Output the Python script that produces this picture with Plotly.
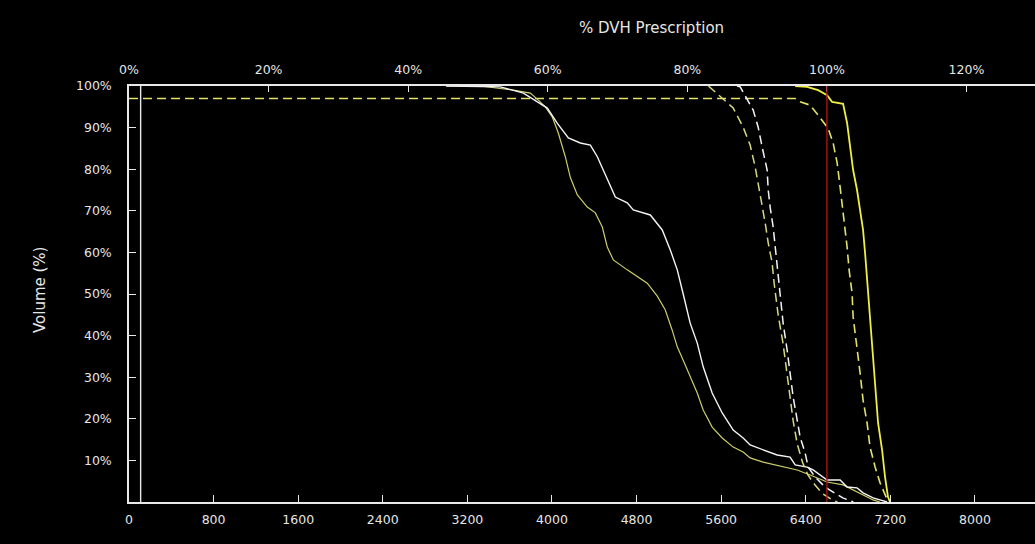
import plotly.graph_objects as go

# ---- data (dose in cGy, volume in %) ----
RX_DOSE = 6600          # 100 % prescription dose (red line)
REF_LINE_DOSE = 110     # thin white reference line near 0 %
X_MAX = 8568
PCT_TICKS = [0, 20, 40, 60, 80, 100, 120]
DOSE_TICKS = [0, 800, 1600, 2400, 3200, 4000, 4800, 5600, 6400, 7200, 8000]
VOL_TICKS = [10, 20, 30, 40, 50, 60, 70, 80, 90, 100]

white_solid_dose = [3000, 3512, 3730, 3862, 3956, 4051, 4155, 4268, 4363, 4429, 4523, 4599,
                    4712, 4769, 4930, 5043, 5119, 5185, 5241, 5307, 5374, 5430, 5515, 5610,
                    5714, 5808, 5874, 5997, 6130, 6252, 6300, 6413, 6470, 6602, 6725, 6791,
                    6885, 6942, 7037, 7169]
white_solid_vol = [100, 99.8, 98.3, 96.2, 94.7, 91.0, 87.5, 86.3, 85.8, 83.0, 77.4, 73.3,
                   71.9, 70.2, 69.0, 65.4, 60.6, 55.8, 50.0, 43.0, 38.2, 32.5, 26.2, 21.4,
                   17.3, 15.4, 13.7, 12.5, 11.3, 10.8, 8.9, 8.4, 7.7, 5.3, 5.3, 3.6,
                   3.4, 2.2, 1.0, 0.0]

yellow_thin_dose = [3000, 3323, 3635, 3796, 3871, 3937, 4004, 4060, 4126, 4174, 4240, 4334,
                    4410, 4476, 4523, 4580, 4712, 4807, 4901, 4996, 5071, 5137, 5185, 5241,
                    5307, 5374, 5430, 5515, 5610, 5714, 5808, 5874, 5997, 6186, 6319, 6441,
                    6602, 6753, 6848, 6980, 7037, 7100]
yellow_thin_vol = [100, 100, 99.0, 98.3, 96.6, 95.0, 92.5, 88.7, 83.0, 78.0, 73.8, 70.9,
                   69.5, 66.1, 61.3, 58.2, 55.8, 54.1, 52.6, 49.5, 46.2, 41.3, 37.3, 34.1,
                   30.0, 26.2, 22.1, 18.0, 15.4, 13.2, 12.0, 10.6, 9.6, 8.4, 7.7, 6.5,
                   4.8, 4.1, 2.9, 1.2, 0.5, 0.0]

yellow_dash1_dose = [5480, 5544, 5714, 5808, 5874, 5922, 5950, 5988, 6016, 6045, 6082, 6101,
                     6139, 6186, 6224, 6252, 6281, 6319, 6370, 6420, 6490, 6560, 6650, 6700]
yellow_dash1_vol = [100, 98.6, 94.7, 90.1, 85.8, 80.5, 76.7, 71.4, 67.1, 62.3, 57.5, 52.6,
                    45.0, 38.0, 31.0, 25.0, 19.5, 14.0, 9.5, 6.5, 4.0, 2.0, 0.5, 0.0]

white_dash_dose = [5750, 5780, 5903, 5950, 5988, 6035, 6045, 6063, 6092, 6111, 6130, 6149,
                   6160, 6186, 6224, 6252, 6281, 6319, 6347, 6394, 6423, 6489, 6583, 6659,
                   6750, 6850]
white_dash_vol = [100, 99.8, 94.2, 90.1, 85.3, 79.8, 75.0, 70.9, 66.1, 61.3, 56.5, 51.7,
                  48.6, 43.0, 36.5, 31.0, 25.2, 19.7, 15.6, 11.8, 8.4, 6.0, 3.6, 2.4,
                  1.0, 0.0]

yellow_dash2_dose = [0, 6300, 6347, 6441, 6517, 6612, 6659, 6697, 6725, 6744, 6763, 6791,
                     6810, 6838, 6848, 6885, 6914, 6942, 6980, 7008, 7056, 7103, 7150, 7180]
yellow_dash2_vol = [97.0, 97.0, 96.2, 95.4, 93.0, 89.8, 86.3, 81.5, 75.7, 71.9, 67.0, 61.3,
                    55.8, 50.2, 44.5, 37.3, 31.0, 24.5, 19.0, 13.2, 8.4, 4.6, 1.7, 0.0]

bright_yellow_dose = [6300, 6413, 6517, 6602, 6649, 6753, 6791, 6819, 6848, 6885, 6914, 6942,
                      6961, 6980, 7008, 7037, 7056, 7084, 7122, 7150, 7178, 7197]
bright_yellow_vol = [100, 99.8, 99.0, 97.8, 96.2, 95.7, 91.1, 85.3, 79.8, 75.0, 70.2, 65.4,
                     59.9, 53.4, 43.0, 34.9, 26.9, 19.0, 12.5, 6.0, 1.2, 0.0]

# ---- figure ----
FONT = "DejaVu Sans, Verdana, sans-serif"
TXT = "#e6e6e6"
AX = "#e8e8e8"
fig = go.Figure()

def add(x, y, color, width, dash="solid"):
    fig.add_trace(go.Scatter(x=x, y=y, mode="lines", line=dict(color=color, width=width, dash=dash),
                             showlegend=False, hoverinfo="skip"))

add(yellow_dash2_dose, yellow_dash2_vol, "#e2e26a", 1.6, "9px,5px")
add(yellow_thin_dose, yellow_thin_vol, "#cccc6c", 1.2)
add(white_solid_dose, white_solid_vol, "#f4f4f4", 1.4)
add(yellow_dash1_dose, yellow_dash1_vol, "#d8d880", 1.5, "9px,5px")
add(white_dash_dose, white_dash_vol, "#f4f4f4", 1.5, "9px,5px")
add(bright_yellow_dose, bright_yellow_vol, "#eeee44", 1.8)

# dummy trace so the top percentage axis is drawn
fig.add_trace(go.Scatter(x=[0], y=[None], xaxis="x2", yaxis="y", showlegend=False, hoverinfo="skip"))

fig.add_vline(x=RX_DOSE, line=dict(color="#a81414", width=1.4))
fig.add_vline(x=REF_LINE_DOSE, line=dict(color=AX, width=1.4))

tick_font = dict(family=FONT, size=12.5, color=TXT)
fig.update_layout(
    width=1035, height=544,
    paper_bgcolor="black", plot_bgcolor="black",
    margin=dict(l=129, r=0, t=86, b=42),
    font=dict(family=FONT, size=13, color=TXT),
    xaxis=dict(range=[0, X_MAX], tickvals=DOSE_TICKS, ticktext=[str(v) for v in DOSE_TICKS],
               showgrid=False, zeroline=False, showline=True, linecolor=AX, linewidth=1.5,
               ticks="inside", ticklen=7, tickwidth=1.3, tickcolor=AX,
               ticklabelstandoff=5, tickfont=tick_font),
    xaxis2=dict(range=[0, X_MAX / RX_DOSE * 100], overlaying="x", side="top", tickvals=PCT_TICKS,
                ticktext=[f"{v}%" for v in PCT_TICKS], showgrid=False, zeroline=False,
                showline=True, linecolor=AX, linewidth=1.5,
                ticks="inside", ticklen=6, tickwidth=1.3, tickcolor=AX,
                ticklabelstandoff=5, tickfont=tick_font),
    yaxis=dict(range=[0, 100], tickvals=VOL_TICKS, ticktext=[f"{v}%" for v in VOL_TICKS],
               showgrid=False, zeroline=False, showline=True, linecolor=AX, linewidth=1.5,
               ticks="inside", ticklen=7, tickwidth=1.3, tickcolor=AX,
               ticklabelstandoff=13, tickfont=tick_font),
    annotations=[
        dict(text="% DVH Prescription", xref="paper", yref="paper", x=0.577, y=1.0, yshift=58,
             showarrow=False, font=dict(family=FONT, size=15, color=TXT),
             xanchor="center", yanchor="middle"),
        dict(text="Volume (%)", xref="paper", yref="paper", x=-0.098, y=0.51, textangle=-90,
             showarrow=False, font=dict(family=FONT, size=15, color=TXT),
             xanchor="center", yanchor="middle"),
    ],
)

fig.write_html("out.html", config={"displayModeBar": False},
               post_script="document.body.style.margin='0';document.body.style.background='black';")
